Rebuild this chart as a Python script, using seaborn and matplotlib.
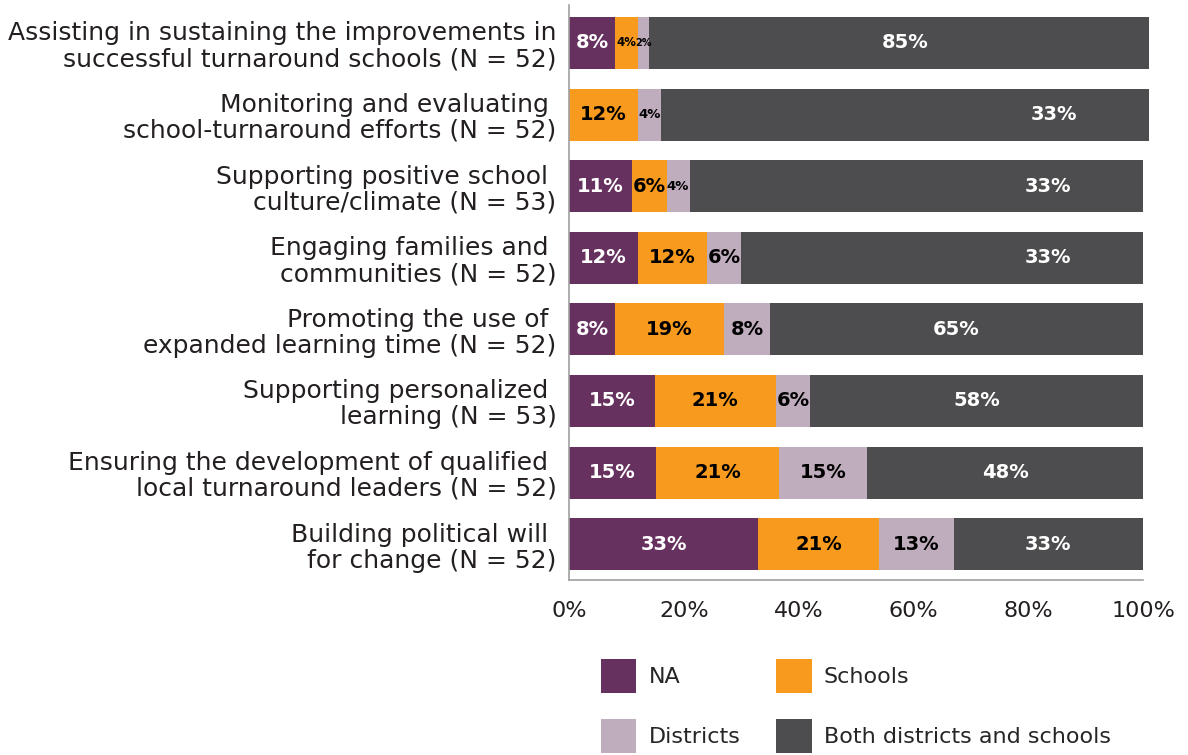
import matplotlib
matplotlib.use("Agg")
import matplotlib.pyplot as plt
import seaborn as sns
import pandas as pd
import numpy as np
from matplotlib.patches import Patch

categories = [
    "Assisting in sustaining the improvements in\nsuccessful turnaround schools (N = 52)",
    "Monitoring and evaluating \nschool-turnaround efforts (N = 52)",
    "Supporting positive school \nculture/climate (N = 53)",
    "Engaging families and \ncommunities (N = 52)",
    "Promoting the use of \nexpanded learning time (N = 52)",
    "Supporting personalized \nlearning (N = 53)",
    "Ensuring the development of qualified \nlocal turnaround leaders (N = 52)",
    "Building political will \nfor change (N = 52)",
]
series_names = ["NA", "Schools", "Districts", "Both districts and schools"]

# segment widths as drawn (percent)
na_vals = [8, 0, 11, 12, 8, 15, 15.2, 33]
schools_vals = [4, 12, 6, 12, 19, 21, 21.3, 21]
districts_vals = [2, 4, 4, 6, 8, 6, 15.4, 13]
both_vals = [87, 85, 79, 70, 65, 58, 48.1, 33]

# data labels as printed in the chart
na_labels = ["8%", "", "11%", "12%", "8%", "15%", "15%", "33%"]
schools_labels = ["4%", "12%", "6%", "12%", "19%", "21%", "21%", "21%"]
districts_labels = ["2%", "4%", "4%", "6%", "8%", "6%", "15%", "13%"]
both_labels = ["85%", "33%", "33%", "33%", "65%", "58%", "48%", "33%"]

xticks = [0, 20, 40, 60, 80, 100]
xtick_labels = ["0%", "20%", "40%", "60%", "80%", "100%"]

colors = ["#67315f", "#f79a1e", "#bfacbd", "#4d4d4f"]
text_colors = ["white", "black", "black", "white"]

sns.set_style("white")
plt.rcParams["font.family"] = ["DejaVu Sans"]

fig = plt.figure(figsize=(11.88, 7.55), dpi=100)
ax = fig.add_axes([569 / 1188, 1 - 580 / 755, (1143 - 569) / 1188, (580 - 5) / 755])

vals = [na_vals, schools_vals, districts_vals, both_vals]
labels = [na_labels, schools_labels, districts_labels, both_labels]
cum = np.cumsum(np.array(vals, dtype=float), axis=0)  # shape (4, 8)

df = pd.DataFrame({"category": categories})
for i in range(4):
    df[f"cum{i}"] = cum[i]

# draw cumulative bars from longest to shortest
for i in reversed(range(4)):
    sns.barplot(data=df, x=f"cum{i}", y="category", orient="h", color=colors[i],
                saturation=1, width=0.726, ax=ax, linewidth=0)
for p in ax.patches:
    p.set_clip_on(False)

# data labels
for i in range(4):
    for r in range(len(categories)):
        txt = labels[i][r]
        if not txt:
            continue
        width = vals[i][r]
        end = cum[i][r]
        if i == 3:
            lv = float(txt.strip("%"))
            xc = end - lv / 2
        else:
            xc = end - width / 2
        if width >= 5:
            fs = 14
        elif width >= 3:
            fs = 8.5 if r == 0 else 9.5
        else:
            fs = 7
        ax.text(xc, r, txt, ha="center", va="center", color=text_colors[i],
                fontsize=fs, fontweight="bold")

ax.set_xlim(0, 100)
ax.set_ylim(7.5, -0.53)
ax.set_xticks(xticks)
ax.set_xticklabels(xtick_labels, fontsize=16, color="#231f20")
ax.set_xlabel("")
ax.set_ylabel("")
ax.tick_params(axis="y", length=0, pad=9, labelsize=18, labelcolor="#231f20")
ax.tick_params(axis="x", length=10, width=1.2, color="#a0a0a0", pad=5)
for lab in ax.get_yticklabels():
    lab.set_horizontalalignment("right")
    lab.set_multialignment("right")
    lab.set_linespacing(1.1)
for s in ["top", "right"]:
    ax.spines[s].set_visible(False)
for s in ["left", "bottom"]:
    ax.spines[s].set_color("#a0a0a0")
    ax.spines[s].set_linewidth(1.2)

handles = [Patch(facecolor=c, edgecolor="none") for c in colors]
order = [0, 2, 1, 3]
fig.legend([handles[k] for k in order], [series_names[k] for k in order],
           ncol=2, loc="upper left", bbox_to_anchor=(592 / 1188, 1 - 650 / 755),
           frameon=False, fontsize=16, handlelength=1.6, handleheight=2.0,
           handletextpad=0.55, labelspacing=1.15, columnspacing=1.6, borderaxespad=0)

fig.savefig("out.png", dpi=100)
